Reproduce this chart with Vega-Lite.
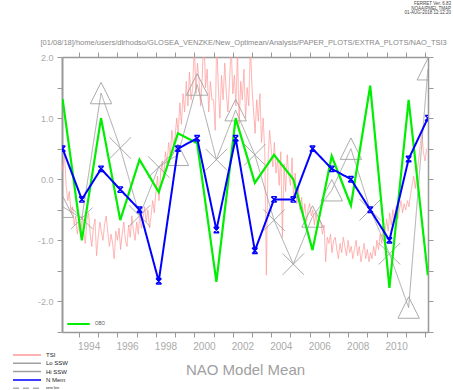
{
  "$schema": "https://vega.github.io/schema/vega-lite/v6.json",
  "width": 366,
  "height": 275,
  "autosize": {"type": "none"},
  "padding": {"left": 62, "top": 57, "right": 25, "bottom": 58},
  "background": "white",
  "config": {"view": {"stroke": null}, "font": "Liberation Sans"},
  "title": {
    "text": ["FERRET Ver. 6.83", "NOAA/PMEL TMAP", "01-AUG-2018 12:12:20"],
    "anchor": "end", "frame": "group", "fontSize": 4.5, "fontWeight": "normal",
    "color": "#444", "dx": 23, "offset": 23, "lineHeight": 4.7
  },
  "datasets": {
    "nao": [
      {"d": "1993-02-24", "nmem": 0.5, "obo": 1.31, "ssw": -0.45, "kind": "Hi"},
      {"d": "1994-02-24", "nmem": -0.33, "obo": -1.0, "ssw": -0.64, "kind": "Lo"},
      {"d": "1995-02-24", "nmem": 0.17, "obo": 1.0, "ssw": 1.41, "kind": "Hi"},
      {"d": "1996-02-24", "nmem": -0.17, "obo": -0.67, "ssw": 0.51, "kind": "Lo"},
      {"d": "1997-02-24", "nmem": -0.5, "obo": 0.32, "ssw": -0.6, "kind": "Lo"},
      {"d": "1998-02-24", "nmem": -1.67, "obo": -0.21, "ssw": 0.2, "kind": "Lo"},
      {"d": "1999-02-24", "nmem": 0.5, "obo": 0.75, "ssw": 0.4, "kind": "Hi"},
      {"d": "2000-02-24", "nmem": 0.67, "obo": 0.59, "ssw": 1.55, "kind": "Hi"},
      {"d": "2001-02-24", "nmem": -0.83, "obo": -1.68, "ssw": 0.32, "kind": "Lo"},
      {"d": "2002-02-24", "nmem": 0.67, "obo": 1.0, "ssw": 1.13, "kind": "Hi"},
      {"d": "2003-02-24", "nmem": -1.17, "obo": -0.06, "ssw": 0.4, "kind": "Lo"},
      {"d": "2004-02-24", "nmem": -0.33, "obo": 0.4, "ssw": -0.67, "kind": "Lo"},
      {"d": "2005-02-24", "nmem": -0.33, "obo": 0.0, "ssw": -1.39, "kind": "Lo"},
      {"d": "2006-02-24", "nmem": 0.5, "obo": -1.16, "ssw": -0.61, "kind": "Hi"},
      {"d": "2007-02-24", "nmem": 0.17, "obo": 0.38, "ssw": -0.18, "kind": "Hi"},
      {"d": "2008-02-24", "nmem": 0.0, "obo": -0.43, "ssw": 0.5, "kind": "Hi"},
      {"d": "2009-02-24", "nmem": -0.5, "obo": 1.53, "ssw": -0.5, "kind": "Lo"},
      {"d": "2010-02-24", "nmem": -1.0, "obo": -1.78, "ssw": -1.22, "kind": "Lo"},
      {"d": "2011-02-24", "nmem": 0.33, "obo": 1.3, "ssw": -2.1, "kind": "Hi"},
      {"d": "2012-02-24", "nmem": 1.0, "obo": -1.57, "ssw": 1.8, "kind": "Hi"}
    ],
    "tsi": [
      {"m": "1993-02", "v": 0.3}, {"m": "1993-03", "v": 0.15}, {"m": "1993-04", "v": 0.42}, {"m": "1993-05", "v": -0.1}, {"m": "1993-06", "v": -0.35}, {"m": "1993-07", "v": -0.2}, {"m": "1993-08", "v": -0.55}, {"m": "1993-09", "v": -0.45}, {"m": "1993-10", "v": -0.75}, {"m": "1993-11", "v": -0.6}, {"m": "1993-12", "v": -0.9},
      {"m": "1994-01", "v": -0.7}, {"m": "1994-02", "v": -0.95}, {"m": "1994-03", "v": -0.6}, {"m": "1994-04", "v": -0.85}, {"m": "1994-05", "v": -1.05}, {"m": "1994-06", "v": -0.65}, {"m": "1994-07", "v": -0.55}, {"m": "1994-08", "v": -0.9}, {"m": "1994-09", "v": -1.1}, {"m": "1994-10", "v": -0.8}, {"m": "1994-11", "v": -0.65}, {"m": "1994-12", "v": -1.25},
      {"m": "1995-01", "v": -0.95}, {"m": "1995-02", "v": -0.7}, {"m": "1995-03", "v": -0.85}, {"m": "1995-04", "v": -1.0}, {"m": "1995-05", "v": -0.75}, {"m": "1995-06", "v": -0.6}, {"m": "1995-07", "v": -0.85}, {"m": "1995-08", "v": -1.1}, {"m": "1995-09", "v": -0.9}, {"m": "1995-10", "v": -1.05}, {"m": "1995-11", "v": -1.3}, {"m": "1995-12", "v": -0.85},
      {"m": "1996-01", "v": -1.0}, {"m": "1996-02", "v": -0.8}, {"m": "1996-03", "v": -1.15}, {"m": "1996-04", "v": -0.9}, {"m": "1996-05", "v": -0.7}, {"m": "1996-06", "v": -1.0}, {"m": "1996-07", "v": -1.1}, {"m": "1996-08", "v": -0.75}, {"m": "1996-09", "v": -0.95}, {"m": "1996-10", "v": -0.6}, {"m": "1996-11", "v": -0.85}, {"m": "1996-12", "v": -1.0},
      {"m": "1997-01", "v": -0.7}, {"m": "1997-02", "v": -0.9}, {"m": "1997-03", "v": -0.55}, {"m": "1997-04", "v": -0.8}, {"m": "1997-05", "v": -0.65}, {"m": "1997-06", "v": -0.45}, {"m": "1997-07", "v": -0.7}, {"m": "1997-08", "v": -0.5}, {"m": "1997-09", "v": -0.8}, {"m": "1997-10", "v": -0.6}, {"m": "1997-11", "v": -0.35}, {"m": "1997-12", "v": -0.55},
      {"m": "1998-01", "v": -0.2}, {"m": "1998-02", "v": 0.05}, {"m": "1998-03", "v": -0.35}, {"m": "1998-04", "v": 0.1}, {"m": "1998-05", "v": 0.3}, {"m": "1998-06", "v": 0.0}, {"m": "1998-07", "v": 0.45}, {"m": "1998-08", "v": 0.25}, {"m": "1998-09", "v": 0.6}, {"m": "1998-10", "v": 0.35}, {"m": "1998-11", "v": 0.8}, {"m": "1998-12", "v": 0.55},
      {"m": "1999-01", "v": 0.7}, {"m": "1999-02", "v": 1.0}, {"m": "1999-03", "v": 0.75}, {"m": "1999-04", "v": 1.25}, {"m": "1999-05", "v": 0.9}, {"m": "1999-06", "v": 1.4}, {"m": "1999-07", "v": 1.1}, {"m": "1999-08", "v": 1.6}, {"m": "1999-09", "v": 1.2}, {"m": "1999-10", "v": 1.75}, {"m": "1999-11", "v": 1.3}, {"m": "1999-12", "v": 1.5},
      {"m": "2000-01", "v": 2.2}, {"m": "2000-02", "v": 1.4}, {"m": "2000-03", "v": 1.9}, {"m": "2000-04", "v": 1.6}, {"m": "2000-05", "v": 1.2}, {"m": "2000-06", "v": 1.7}, {"m": "2000-07", "v": 2.4}, {"m": "2000-08", "v": 1.5}, {"m": "2000-09", "v": 1.8}, {"m": "2000-10", "v": 1.1}, {"m": "2000-11", "v": 1.6}, {"m": "2000-12", "v": 1.3},
      {"m": "2001-01", "v": 1.3}, {"m": "2001-02", "v": 0.8}, {"m": "2001-03", "v": 2.3}, {"m": "2001-04", "v": 1.5}, {"m": "2001-05", "v": 1.0}, {"m": "2001-06", "v": 1.7}, {"m": "2001-07", "v": 1.3}, {"m": "2001-08", "v": 1.9}, {"m": "2001-09", "v": 1.4}, {"m": "2001-10", "v": 1.1}, {"m": "2001-11", "v": 1.6}, {"m": "2001-12", "v": 2.2},
      {"m": "2002-01", "v": 1.4}, {"m": "2002-02", "v": 1.7}, {"m": "2002-03", "v": 1.2}, {"m": "2002-04", "v": 2.1}, {"m": "2002-05", "v": 0.9}, {"m": "2002-06", "v": 1.6}, {"m": "2002-07", "v": 1.3}, {"m": "2002-08", "v": 1.8}, {"m": "2002-09", "v": 1.0}, {"m": "2002-10", "v": 1.5}, {"m": "2002-11", "v": 1.2}, {"m": "2002-12", "v": 2.2},
      {"m": "2003-01", "v": 1.5}, {"m": "2003-02", "v": 1.1}, {"m": "2003-03", "v": 0.75}, {"m": "2003-04", "v": 1.3}, {"m": "2003-05", "v": 0.95}, {"m": "2003-06", "v": 1.4}, {"m": "2003-07", "v": 0.6}, {"m": "2003-08", "v": 1.0}, {"m": "2003-09", "v": 0.45}, {"m": "2003-10", "v": -1.57}, {"m": "2003-11", "v": 0.3}, {"m": "2003-12", "v": 0.8},
      {"m": "2004-01", "v": 0.5}, {"m": "2004-02", "v": 0.2}, {"m": "2004-03", "v": 0.6}, {"m": "2004-04", "v": 0.1}, {"m": "2004-05", "v": 0.35}, {"m": "2004-06", "v": -0.1}, {"m": "2004-07", "v": 0.45}, {"m": "2004-08", "v": -0.95}, {"m": "2004-09", "v": 0.25}, {"m": "2004-10", "v": -0.2}, {"m": "2004-11", "v": 0.4}, {"m": "2004-12", "v": 0.05},
      {"m": "2005-01", "v": -0.1}, {"m": "2005-02", "v": 0.35}, {"m": "2005-03", "v": -0.3}, {"m": "2005-04", "v": 0.1}, {"m": "2005-05", "v": -0.4}, {"m": "2005-06", "v": -0.15}, {"m": "2005-07", "v": -0.5}, {"m": "2005-08", "v": -0.3}, {"m": "2005-09", "v": -0.6}, {"m": "2005-10", "v": -0.4}, {"m": "2005-11", "v": -0.7}, {"m": "2005-12", "v": -0.5},
      {"m": "2006-01", "v": -0.4}, {"m": "2006-02", "v": -0.6}, {"m": "2006-03", "v": -0.5}, {"m": "2006-04", "v": -0.75}, {"m": "2006-05", "v": -0.55}, {"m": "2006-06", "v": -0.8}, {"m": "2006-07", "v": -0.65}, {"m": "2006-08", "v": -0.7}, {"m": "2006-09", "v": -0.9}, {"m": "2006-10", "v": -0.75}, {"m": "2006-11", "v": -1.35}, {"m": "2006-12", "v": -0.95},
      {"m": "2007-01", "v": -1.05}, {"m": "2007-02", "v": -0.9}, {"m": "2007-03", "v": -1.2}, {"m": "2007-04", "v": -1.0}, {"m": "2007-05", "v": -0.95}, {"m": "2007-06", "v": -1.15}, {"m": "2007-07", "v": -1.3}, {"m": "2007-08", "v": -1.05}, {"m": "2007-09", "v": -1.2}, {"m": "2007-10", "v": -0.95}, {"m": "2007-11", "v": -1.1}, {"m": "2007-12", "v": -1.25},
      {"m": "2008-01", "v": -1.0}, {"m": "2008-02", "v": -1.2}, {"m": "2008-03", "v": -1.1}, {"m": "2008-04", "v": -1.3}, {"m": "2008-05", "v": -1.15}, {"m": "2008-06", "v": -1.0}, {"m": "2008-07", "v": -1.25}, {"m": "2008-08", "v": -1.1}, {"m": "2008-09", "v": -1.35}, {"m": "2008-10", "v": -1.2}, {"m": "2008-11", "v": -1.05}, {"m": "2008-12", "v": -1.3},
      {"m": "2009-01", "v": -1.15}, {"m": "2009-02", "v": -1.35}, {"m": "2009-03", "v": -1.2}, {"m": "2009-04", "v": -1.3}, {"m": "2009-05", "v": -1.1}, {"m": "2009-06", "v": -1.25}, {"m": "2009-07", "v": -1.0}, {"m": "2009-08", "v": -1.15}, {"m": "2009-09", "v": -0.9}, {"m": "2009-10", "v": -1.05}, {"m": "2009-11", "v": -0.75}, {"m": "2009-12", "v": -0.9},
      {"m": "2010-01", "v": -0.65}, {"m": "2010-02", "v": -0.85}, {"m": "2010-03", "v": -0.55}, {"m": "2010-04", "v": -0.75}, {"m": "2010-05", "v": -0.5}, {"m": "2010-06", "v": -0.7}, {"m": "2010-07", "v": -0.45}, {"m": "2010-08", "v": -0.65}, {"m": "2010-09", "v": -0.5}, {"m": "2010-10", "v": -0.35}, {"m": "2010-11", "v": -0.55}, {"m": "2010-12", "v": -0.4},
      {"m": "2011-01", "v": -0.5}, {"m": "2011-02", "v": -0.35}, {"m": "2011-03", "v": -0.45}, {"m": "2011-04", "v": -0.25}, {"m": "2011-05", "v": -0.1}, {"m": "2011-06", "v": 0.05}, {"m": "2011-07", "v": -0.15}, {"m": "2011-08", "v": 0.1}, {"m": "2011-09", "v": 0.3}, {"m": "2011-10", "v": 0.55}, {"m": "2011-11", "v": 0.78}, {"m": "2011-12", "v": 0.45},
      {"m": "2012-01", "v": 0.3}, {"m": "2012-02", "v": 0.5}
    ]
  },
  "resolve": {"axis": {"x": "independent", "y": "independent"}},
  "layer": [
    {
      "mark": {"type": "rule", "strokeWidth": 1},
      "encoding": {
        "y": {"datum": 0, "type": "quantitative", "scale": {"domain": [-2.5, 2], "nice": false, "zero": false}, "axis": null},
        "color": {"datum": "zero"},
        "strokeDash": {"datum": "zero"}
      }
    },
    {
      "data": {"name": "tsi"},
      "mark": {"type": "line", "strokeWidth": 0.8, "clip": true},
      "encoding": {
        "x": {
          "field": "m", "type": "temporal",
          "scale": {"type": "utc", "domain": [{"year": 1993, "month": 2, "date": 12, "utc": true}, {"year": 2012, "month": 2, "date": 27, "utc": true}]},
          "axis": {
            "orient": "bottom", "tickCount": {"interval": "year", "step": 1},
            "labelExpr": "(+utcFormat(datum.value, '%Y')) % 2 == 0 && +utcFormat(datum.value, '%Y') <= 2010 ? utcFormat(datum.value, '%Y') : ''",
            "labelOffset": 9.6, "labelOverlap": false, "labelFlush": false, "labelBound": false,
            "tickSize": 5, "tickColor": "#999", "domainColor": "#999", "domainWidth": 1.5,
            "labelColor": "#aaa", "labelFontSize": 10, "labelPadding": 4, "grid": false,
            "title": "NAO Model Mean", "titleFontSize": 15, "titleColor": "#a0a0a0", "titleFontWeight": "normal",
            "titleY": 42, "titleBaseline": "alphabetic"
          }
        },
        "y": {
          "field": "v", "type": "quantitative",
          "scale": {"domain": [-2.5, 2], "nice": false, "zero": false},
          "axis": {
            "orient": "left", "values": [-2.5, -2, -1.5, -1, -0.5, 0, 0.5, 1, 1.5, 2],
            "labelExpr": "datum.value % 1 == 0 ? (datum.value < 0 ? '-' : '') + format(abs(datum.value), '.1f') : ''",
            "tickSize": 5, "tickColor": "#999", "domainColor": "#999", "domainWidth": 2,
            "labelColor": "#aaa", "labelFontSize": 9, "labelPadding": 4, "grid": false, "title": null
          }
        },
        "color": {
          "datum": "TSI",
          "scale": {"domain": ["TSI", "Lo SSW", "Hi SSW", "N Mem", "zero"], "range": ["#ff9999", "#a0a0a0", "#a0a0a0", "#0000ff", "#b0b0b0"]},
          "legend": {
            "orient": "none", "legendX": -50, "legendY": 294, "title": null,
            "values": ["TSI", "Lo SSW", "Hi SSW", "N Mem", "zero"],
            "symbolType": "stroke", "symbolSize": 784, "symbolStrokeWidth": 1.5,
            "clipHeight": 8,
            "labelFontSize": 6, "labelColor": "#222", "rowPadding": 0.3, "padding": 0,
            "labelExpr": "datum.label == 'zero' ? 'zero line' : datum.label",
            "encode": {"labels": {"update": {"fontSize": {"signal": "datum.value == 'zero' ? 3.5 : 6"}}}}
          }
        },
        "strokeDash": {
          "datum": "TSI",
          "scale": {"domain": ["TSI", "Lo SSW", "Hi SSW", "N Mem", "zero"], "range": [[1, 0], [1, 0], [1, 0], [1, 0], [6, 4]]}
        }
      }
    },
    {
      "data": {"name": "nao"},
      "mark": {"type": "line", "strokeWidth": 0.9, "clip": true},
      "encoding": {
        "x": {"field": "d", "type": "temporal", "axis": null},
        "y": {"field": "ssw", "type": "quantitative", "axis": null},
        "color": {"datum": "Lo SSW"},
        "strokeDash": {"datum": "Lo SSW"}
      }
    },
    {
      "data": {"name": "nao"},
      "mark": {"type": "point", "filled": false, "color": "#a0a0a0", "strokeWidth": 0.9, "size": 460, "opacity": 1, "clip": true},
      "encoding": {
        "x": {"field": "d", "type": "temporal", "axis": null},
        "y": {"field": "ssw", "type": "quantitative", "axis": null},
        "shape": {"field": "kind", "type": "nominal", "scale": {"domain": ["Lo", "Hi"], "range": ["M-1,-1L1,1M-1,1L1,-1", "M0,-1L1,1L-1,1Z"]}, "legend": null}
      }
    },
    {
      "data": {"name": "nao"},
      "mark": {"type": "line", "color": "#00ee00", "strokeWidth": 2.2, "clip": true},
      "encoding": {
        "x": {
          "field": "d", "type": "temporal",
          "axis": {"orient": "top", "tickCount": {"interval": "year", "step": 1}, "labels": false, "tickSize": 5, "tickColor": "#999", "domainColor": "#999", "domainWidth": 1.5, "grid": false,
            "title": "[01/08/18]/home/users/dlrhodso/GLOSEA_VENZKE/New_Optimean/Analysis/PAPER_PLOTS/EXTRA_PLOTS/NAO_TSI3",
            "titleX": -22, "titleY": -13, "titleAlign": "left", "titleAnchor": "start", "titleBaseline": "alphabetic",
            "titleFontSize": 7.5, "titleColor": "#888", "titleFontWeight": "normal"}
        },
        "y": {
          "field": "obo", "type": "quantitative",
          "axis": {"orient": "right", "values": [-2.5, -2, -1.5, -1, -0.5, 0, 0.5, 1, 1.5, 2], "labels": false, "tickSize": 5, "tickColor": "#999", "domainColor": "#999", "domainWidth": 1.5, "grid": false, "title": null}
        },
        "opacity": {
          "datum": "OBO",
          "scale": {"domain": ["OBO"], "range": [1]},
          "legend": {"orient": "none", "legendX": 4, "legendY": 264, "title": null, "symbolType": "stroke", "symbolSize": 500, "symbolStrokeColor": "#00ee00", "symbolStrokeWidth": 2, "clipHeight": 6, "labelFontSize": 4.5, "labelColor": "#555", "padding": 0}
        }
      }
    },
    {
      "data": {"name": "nao"},
      "mark": {"type": "line", "strokeWidth": 2, "clip": true},
      "encoding": {
        "x": {"field": "d", "type": "temporal", "axis": null},
        "y": {"field": "nmem", "type": "quantitative", "axis": null},
        "color": {"datum": "N Mem"},
        "strokeDash": {"datum": "N Mem"}
      }
    },
    {
      "data": {"name": "nao"},
      "mark": {"type": "point", "filled": false, "color": "#0000ff", "strokeWidth": 1.4, "size": 30, "opacity": 1, "shape": "M-1,-1L1,1M-1,1L1,-1M-1,-1H1M-1,1H1", "clip": true},
      "encoding": {
        "x": {"field": "d", "type": "temporal", "axis": null},
        "y": {"field": "nmem", "type": "quantitative", "axis": null}
      }
    }
  ]
}
